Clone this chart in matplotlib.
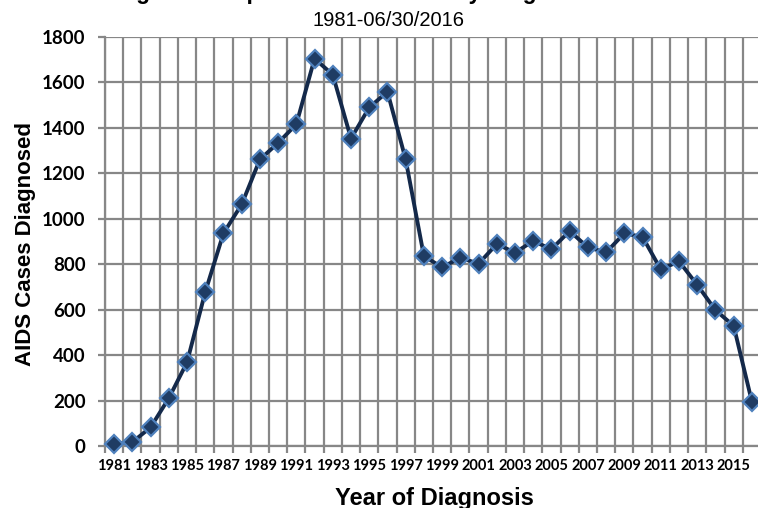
import numpy as np
import matplotlib.pyplot as plt

# AIDS cases by year of diagnosis
years = list(range(1981, 2017))
cases = [10, 17, 82, 210, 368, 677, 936, 1063, 1261, 1334, 1416, 1705, 1634, 1353,
         1490, 1559, 1261, 836, 786, 829, 802, 889, 851, 902, 866, 946, 874, 852,
         936, 920, 777, 813, 709, 598, 529, 195]
year_labels = [str(y) if (y - 1981) % 2 == 0 else '' for y in years]

title = 'Figure 1: Reported AIDS Cases by Diagnosis Year'
subtitle = '1981-06/30/2016'

grid_col = '#878787'
line_col = '#14294a'
face_col = '#1f3c64'
edge_col = '#4f81bd'

fig = plt.figure(figsize=(7.58, 5.08), dpi=100)
ax = fig.add_axes([105 / 758, 1 - 446 / 508, (761 - 105) / 758, (446 - 37) / 508])

x = np.arange(len(years))
ax.plot(x, cases, color=line_col, lw=2.8, marker='D', ms=9,
        mfc=face_col, mec=edge_col, mew=1.6, zorder=5, clip_on=False)

ax.set_xlim(-0.5, len(years) - 0.5)
ax.set_ylim(0, 1800)

# category boundaries carry the grid and tick marks, labels sit on centres
ax.set_xticks(np.arange(len(years) + 1) - 0.5)
ax.set_xticklabels([])
ax.set_xticks(x[::2], [year_labels[i] for i in x[::2]], minor=True)
ax.tick_params(axis='x', which='major', length=5, width=1.6, color=grid_col, direction='out')
ax.tick_params(axis='x', which='minor', length=0, pad=9)
ax.set_yticks(np.arange(0, 1801, 200))
ax.tick_params(axis='y', length=5, width=1.6, color=grid_col, direction='out', pad=9)

for lab in ax.get_xticklabels(minor=True):
    lab.set_fontfamily('Lato')
    lab.set_fontweight('bold')
    lab.set_fontsize(10.5)
for lab in ax.get_yticklabels():
    lab.set_fontfamily('Lato')
    lab.set_fontweight('bold')
    lab.set_fontsize(13.5)

ax.grid(True, which='major', color=grid_col, lw=1.6)
ax.set_axisbelow(True)
for side in ['top', 'right']:
    ax.spines[side].set_visible(False)
for side in ['left', 'bottom']:
    ax.spines[side].set_color(grid_col)
    ax.spines[side].set_linewidth(1.6)

fig.text(26 / 758, 1 - 244 / 508, 'AIDS Cases Diagnosed', rotation=90,
         ha='center', va='center', fontsize=16, fontweight='bold',
         family='Liberation Sans')
fig.text(434 / 758, 1 - 498 / 508, 'Year of Diagnosis', ha='center', va='center',
         fontsize=17, fontweight='bold', family='Liberation Sans')
# the title runs off the top edge in the original, only descenders show
fig.text(382 / 758, 1 + 1 / 508, title, ha='center', va='baseline',
         fontsize=16.3, fontweight='bold', family='Liberation Sans')
fig.text(389 / 758, 1 - 20 / 508, subtitle, ha='center', va='center',
         fontsize=14.5, family='Liberation Sans')

fig.savefig('out.png', dpi=100)
